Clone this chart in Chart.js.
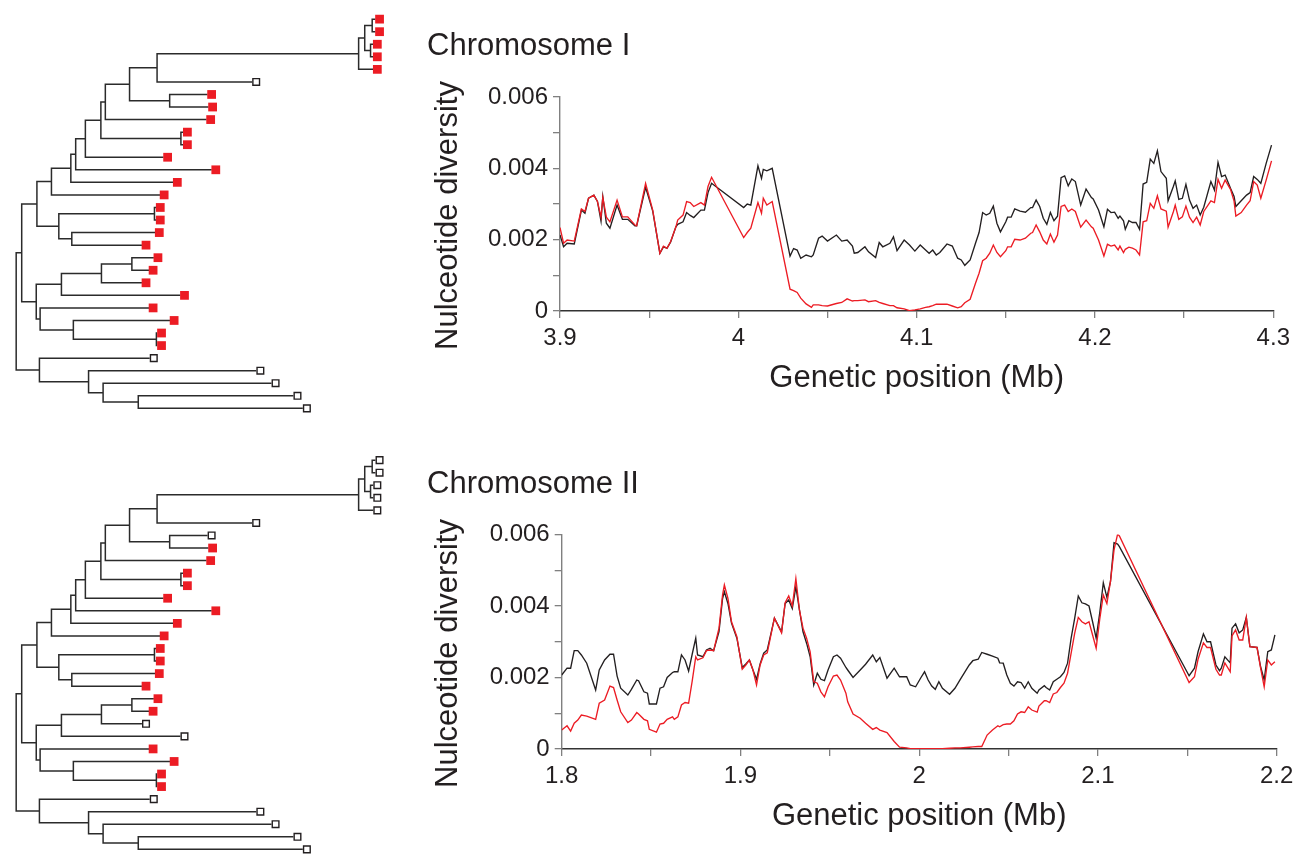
<!DOCTYPE html>
<html>
<head>
<meta charset="utf-8">
<script src="https://cdn.jsdelivr.net/npm/chart.js@4.4.1/dist/chart.umd.min.js"></script>
<style>
  html, body { margin: 0; padding: 0; background: #fff; }
  #page { position: relative; width: 1303px; height: 860px; overflow: hidden; }
  canvas { position: absolute; }
</style>
</head>
<body>
<div id="page">
  <canvas id="treeTop" width="400" height="430" style="left:0;top:0"></canvas>
  <canvas id="treeBottom" width="400" height="430" style="left:0;top:441px"></canvas>
  <canvas id="chrI" width="903" height="420" style="left:400px;top:0"></canvas>
  <canvas id="chrII" width="903" height="420" style="left:400px;top:438px"></canvas>
</div>
<script>
// genetic positions (Mb) and nucleotide diversity (x 1e-3)
var posI = [3.900, 3.902, 3.904, 3.908, 3.912, 3.914, 3.916, 3.919, 3.921, 3.923, 3.924, 3.926, 3.928, 3.932, 3.935, 3.938, 3.942, 3.943, 3.948, 3.952,
  3.956, 3.958, 3.960, 3.962, 3.965, 3.966, 3.969, 3.971, 3.973, 3.975, 3.979, 3.981, 3.983, 3.985, 4.003, 4.005, 4.007, 4.011, 4.013, 4.014,
  4.016, 4.019, 4.029, 4.031, 4.033, 4.035, 4.038, 4.041, 4.042, 4.045, 4.047, 4.050, 4.055, 4.058, 4.061, 4.064, 4.065, 4.067, 4.071, 4.073,
  4.077, 4.079, 4.081, 4.085, 4.087, 4.089, 4.093, 4.096, 4.099, 4.102, 4.105, 4.107, 4.109, 4.111, 4.113, 4.117, 4.120, 4.123, 4.125, 4.127,
  4.130, 4.133, 4.135, 4.137, 4.139, 4.141, 4.143, 4.145, 4.147, 4.150, 4.151, 4.153, 4.155, 4.158, 4.161, 4.164, 4.165, 4.167, 4.169, 4.171,
  4.173, 4.175, 4.177, 4.179, 4.181, 4.183, 4.185, 4.187, 4.189, 4.192, 4.195, 4.198, 4.199, 4.202, 4.205, 4.207, 4.209, 4.211, 4.213, 4.214,
  4.216, 4.217, 4.219, 4.221, 4.223, 4.225, 4.227, 4.229, 4.231, 4.233, 4.235, 4.237, 4.240, 4.241, 4.244, 4.245, 4.247, 4.249, 4.251, 4.253,
  4.255, 4.257, 4.259, 4.261, 4.265, 4.267, 4.269, 4.271, 4.273, 4.276, 4.278, 4.279, 4.282, 4.285, 4.287, 4.289, 4.291, 4.293, 4.296, 4.299];
var blackI = [2.13, 1.80, 1.90, 1.88, 2.83, 2.74, 3.16, 3.25, 3.07, 2.52, 3.21, 2.46, 2.32, 2.97, 2.57, 2.57, 2.39, 2.39, 3.47, 2.80,
  1.62, 1.80, 1.76, 1.93, 2.36, 2.43, 2.50, 2.76, 2.68, 2.62, 2.83, 2.83, 3.32, 3.58, 2.90, 3.00, 2.97, 4.07, 3.72, 3.97,
  3.93, 4.00, 1.54, 1.75, 1.71, 1.48, 1.57, 1.52, 1.57, 2.04, 2.10, 1.96, 2.13, 1.96, 1.99, 1.82, 1.62, 1.64, 1.80, 1.66,
  1.50, 1.92, 1.80, 1.90, 2.08, 1.69, 1.99, 1.85, 1.68, 1.85, 1.71, 1.62, 1.71, 1.57, 1.64, 1.88, 1.82, 1.48, 1.43, 1.28,
  1.43, 1.90, 2.20, 2.76, 2.69, 2.74, 2.94, 2.46, 2.22, 2.50, 2.63, 2.63, 2.86, 2.80, 2.77, 2.90, 2.90, 3.11, 2.93, 2.60,
  2.43, 2.76, 2.53, 2.66, 3.74, 3.79, 3.51, 3.70, 3.63, 2.97, 3.42, 3.18, 3.14, 2.83, 2.36, 2.85, 2.76, 2.77, 2.60, 2.66,
  2.53, 2.29, 2.53, 2.48, 2.48, 2.29, 3.56, 3.61, 4.26, 4.14, 4.49, 3.91, 3.72, 3.09, 3.50, 3.65, 3.13, 3.16, 3.55, 3.11,
  2.88, 2.97, 2.69, 2.91, 3.63, 3.39, 4.17, 3.77, 3.81, 3.44, 3.21, 2.93, 3.09, 3.25, 3.32, 3.77, 3.69, 3.58, 4.14, 4.65];
var redI = [2.34, 1.90, 1.99, 1.96, 2.86, 2.79, 3.16, 3.25, 3.07, 2.63, 3.19, 2.63, 2.50, 3.11, 2.64, 2.64, 2.41, 2.39, 3.58, 2.83,
  1.62, 1.82, 1.76, 1.94, 2.36, 2.55, 2.69, 3.07, 3.04, 2.93, 3.04, 2.97, 3.49, 3.75, 2.06, 2.20, 2.32, 3.04, 2.74, 3.16,
  2.97, 3.07, 0.61, 0.57, 0.52, 0.36, 0.20, 0.10, 0.17, 0.17, 0.15, 0.14, 0.21, 0.24, 0.34, 0.28, 0.29, 0.29, 0.31, 0.26,
  0.29, 0.24, 0.21, 0.15, 0.15, 0.09, 0.06, 0.01, 0.03, 0.06, 0.10, 0.12, 0.15, 0.19, 0.19, 0.19, 0.14, 0.09, 0.12, 0.23,
  0.33, 0.78, 1.06, 1.41, 1.48, 1.62, 1.85, 1.64, 1.52, 1.69, 1.80, 1.80, 2.01, 1.99, 2.04, 2.18, 2.20, 2.41, 2.22, 1.99,
  1.88, 2.16, 1.93, 2.13, 2.93, 2.97, 2.79, 2.86, 2.79, 2.35, 2.55, 2.36, 2.32, 1.99, 1.54, 1.87, 1.82, 1.85, 1.71, 1.82,
  1.64, 1.73, 1.79, 1.76, 1.71, 1.57, 2.50, 2.53, 3.02, 2.88, 3.23, 2.86, 2.80, 2.35, 2.79, 2.97, 2.57, 2.64, 2.94, 2.63,
  2.48, 2.63, 2.41, 2.79, 3.09, 3.04, 3.69, 3.44, 3.67, 3.41, 3.08, 2.66, 2.76, 2.97, 3.09, 3.63, 3.53, 3.16, 3.67, 4.21];

var posII = [1.800, 1.803, 1.805, 1.807, 1.809, 1.811, 1.814, 1.819, 1.821, 1.824, 1.827, 1.829, 1.831, 1.833, 1.837, 1.839, 1.842, 1.843, 1.846, 1.848,
  1.849, 1.853, 1.855, 1.857, 1.859, 1.862, 1.863, 1.865, 1.867, 1.869, 1.871, 1.873, 1.875, 1.876, 1.879, 1.881, 1.883, 1.885, 1.888, 1.890,
  1.891, 1.893, 1.895, 1.898, 1.901, 1.903, 1.905, 1.907, 1.909, 1.911, 1.913, 1.915, 1.919, 1.923, 1.925, 1.927, 1.929, 1.931, 1.933, 1.935,
  1.937, 1.939, 1.941, 1.943, 1.945, 1.947, 1.949, 1.952, 1.954, 1.956, 1.959, 1.960, 1.963, 1.967, 1.970, 1.974, 1.976, 1.978, 1.982, 1.986,
  1.989, 1.993, 1.995, 1.998, 2.001, 2.003, 2.005, 2.007, 2.009, 2.011, 2.013, 2.017, 2.020, 2.023, 2.028, 2.030, 2.033, 2.035, 2.038, 2.041,
  2.044, 2.045, 2.047, 2.049, 2.051, 2.053, 2.055, 2.057, 2.059, 2.061, 2.063, 2.066, 2.067, 2.070, 2.071, 2.073, 2.075, 2.077, 2.079, 2.081,
  2.083, 2.085, 2.087, 2.089, 2.091, 2.093, 2.095, 2.097, 2.099, 2.101, 2.103, 2.105, 2.107, 2.109, 2.111, 2.112, 2.151, 2.154, 2.156, 2.159,
  2.161, 2.163, 2.166, 2.168, 2.169, 2.171, 2.174, 2.175, 2.177, 2.179, 2.181, 2.183, 2.185, 2.189, 2.191, 2.193, 2.195, 2.197, 2.199];
var blackII = [2.07, 2.26, 2.26, 2.75, 2.75, 2.63, 2.40, 1.65, 2.21, 2.49, 2.65, 2.65, 2.04, 1.70, 1.51, 1.67, 1.93, 1.91, 1.60, 1.56,
  1.26, 1.26, 1.70, 1.74, 2.00, 2.14, 2.16, 2.16, 2.63, 2.49, 2.18, 2.65, 3.10, 2.63, 2.58, 2.77, 2.82, 2.75, 3.28, 4.21,
  4.40, 4.07, 3.52, 3.10, 2.28, 2.38, 2.49, 2.21, 1.95, 2.38, 2.68, 2.77, 3.66, 3.28, 4.07, 4.17, 3.93, 4.54, 3.89, 3.28,
  2.96, 2.58, 1.79, 2.12, 1.95, 1.91, 2.21, 2.58, 2.63, 2.54, 2.28, 2.21, 2.00, 2.21, 2.37, 2.63, 2.44, 2.56, 1.98, 2.26,
  2.02, 2.02, 1.79, 1.74, 2.00, 2.16, 1.93, 1.76, 1.67, 1.88, 1.70, 1.53, 1.70, 1.95, 2.35, 2.47, 2.51, 2.70, 2.65, 2.60,
  2.54, 2.41, 2.40, 2.07, 1.84, 1.76, 1.88, 1.86, 1.70, 1.88, 1.70, 1.56, 1.65, 1.77, 1.72, 1.65, 1.88, 1.95, 2.02, 2.14,
  2.40, 3.10, 3.66, 4.28, 4.09, 4.06, 4.00, 3.56, 3.10, 3.81, 4.65, 4.24, 4.68, 5.77, 5.73, 5.66, 2.05, 2.26, 2.72, 3.22,
  3.00, 3.00, 2.35, 2.19, 2.26, 2.58, 2.41, 3.38, 3.50, 3.25, 3.33, 3.68, 2.86, 2.84, 2.30, 1.93, 2.72, 2.77, 3.19];
var redII = [0.53, 0.65, 0.50, 0.72, 0.81, 0.95, 0.92, 0.83, 1.28, 1.37, 1.76, 1.72, 1.37, 1.04, 0.74, 0.81, 1.02, 0.98, 0.83, 0.79,
  0.55, 0.47, 0.70, 0.72, 0.83, 0.90, 0.83, 0.90, 1.23, 1.30, 1.28, 1.90, 2.58, 2.49, 2.55, 2.75, 2.77, 2.75, 3.38, 4.31,
  4.59, 4.21, 3.56, 3.14, 2.23, 2.35, 2.49, 2.21, 1.79, 2.35, 2.63, 2.69, 3.66, 3.25, 4.09, 4.28, 4.00, 4.77, 3.89, 3.38,
  3.10, 2.72, 1.88, 1.84, 1.60, 1.46, 1.74, 2.04, 2.07, 1.93, 1.56, 1.32, 0.98, 0.86, 0.72, 0.55, 0.60, 0.53, 0.46, 0.21,
  0.05, 0.03, 0.01, 0.01, 0.01, 0.01, 0.01, 0.01, 0.01, 0.01, 0.01, 0.02, 0.03, 0.03, 0.05, 0.06, 0.07, 0.07, 0.39, 0.53,
  0.65, 0.62, 0.68, 0.70, 0.70, 0.79, 0.98, 1.04, 1.02, 1.18, 1.09, 1.03, 1.20, 1.35, 1.35, 1.30, 1.54, 1.58, 1.72, 1.84,
  2.12, 2.68, 3.24, 3.68, 3.56, 3.50, 3.56, 3.19, 2.82, 3.63, 4.31, 4.07, 4.68, 5.57, 6.01, 5.96, 1.86, 2.02, 2.51, 2.97,
  2.84, 2.84, 2.23, 2.07, 2.07, 2.41, 2.16, 3.16, 3.33, 3.05, 3.05, 3.68, 2.86, 2.84, 2.26, 1.74, 2.49, 2.35, 2.44];

var xTicksI = ['3.9', '4', '4.1', '4.2', '4.3'];
var xTicksII = ['1.8', '1.9', '2', '2.1', '2.2'];
var yTicks = ['0', '0.002', '0.004', '0.006'];

// tree: [node depth, child, child], a bare number is a leaf tip depth (leaves top to bottom)
var treeTopology = [10.3,
  [16,
    [31.7,
      [46.7,
        [66.7,
          [71.7,
            [81.7,
              [97.7,
                [102.3,
                  [127.3,
                    [155.7,
                      [363.7,
                        [370, [377.7, 380.3, 380.3], [376, 378, 378]],
                        378],
                      253],
                    [168.7, 207, 208]],
                  206],
                [180.3, 182, 182]],
              161.6],
            211.3],
          171.6],
        158],
      [54.3, [153, 154, 154], [67.7, 153, 139.3]]],
    [31,
      [57, [98.3, [129.7, 151.6, 146.6], 139.3], 179],
      [35, 146.6, [69.3, 168.3, [155, 155.3, 155.3]]]]],
  [34.3, 147.3, [85, 257.3, [100, 273, [136.3, 295.6, 305.3]]]]];
// r = filled red square, o = open square
var leafStateTop = 'rrrrrorrrrrrrrrrrrrrrrrrrrrooooo'.split('');
var leafStateBottom = 'ooooooorrrrrrrrrrrrrroorrrrooooo'.split('');

var RED = '#ec1c24';
var INK = '#231f20';
Chart.defaults.font.family = '"Liberation Sans", Arial, Helvetica, sans-serif';
Chart.defaults.color = INK;

function layoutTree(node, segs, tips) {
    if (typeof node === 'number') {
        var leaf = {x: node, y: tips.length};
        tips.push(leaf);
        return leaf;
    }
    var depth = node[0];
    var kids = node.slice(1).map(function(k) { return layoutTree(k, segs, tips); });
    var ys = kids.map(function(k) { return k.y; });
    var gap = {x: null, y: null};
    segs.push({x: depth, y: Math.min.apply(null, ys)}, {x: depth, y: Math.max.apply(null, ys)}, gap);
    kids.forEach(function(k) {
        segs.push({x: depth, y: k.y}, {x: k.x, y: k.y}, gap);
    });
    return {x: depth, y: (ys[0] + ys[ys.length - 1]) / 2};
}

function treeChart(id, states) {
    var segs = [], tips = [];
    layoutTree(treeTopology, segs, tips);
    var mark = function(s) {
        return tips.filter(function(t, i) { return states[i] === s; })
                   .map(function(t) { return {x: t.x + 5, y: t.y}; });
    };
    return new Chart(document.getElementById(id), {
        type: 'scatter',
        data: {
            datasets: [{
                data: mark('r'),
                pointStyle: 'rect',
                pointRadius: 6.2,
                backgroundColor: RED,
                borderColor: RED,
                borderWidth: 0,
                clip: false
            }, {
                data: mark('o'),
                pointStyle: 'rect',
                pointRadius: 4.7,
                backgroundColor: '#fff',
                borderColor: INK,
                borderWidth: 1.4,
                clip: false
            }, {
                data: segs,
                showLine: true,
                spanGaps: false,
                pointRadius: 0,
                borderColor: '#2b2b2b',
                borderWidth: 1.5,
                borderCapStyle: 'square',
                clip: false
            }]
        },
        options: {
            responsive: false,
            animation: false,
            layout: { padding: 0 },
            plugins: { legend: { display: false }, tooltip: { enabled: false } },
            scales: {
                x: { type: 'linear', display: false, min: 0, max: 400 },
                y: { type: 'linear', display: false, min: -1.03, max: 32.23, reverse: true }
            }
        }
    });
}

function panelText(name) {
    return {
        id: 'panelText',
        afterDraw: function(chart) {
            var ctx = chart.ctx;
            ctx.save();
            ctx.fillStyle = INK;
            ctx.font = '31px "Liberation Sans", Arial, sans-serif';
            ctx.textBaseline = 'alphabetic';
            ctx.textAlign = 'left';
            ctx.fillText(name, 27, 55);
            ctx.translate(56.5, 215.5);
            ctx.rotate(-Math.PI / 2);
            ctx.textAlign = 'center';
            ctx.fillText('Nulceotide diversity', 0, 0);
            ctx.restore();
        }
    };
}

function labelFrom(list) {
    return function(value) {
        for (var i = 0; i < list.length; i++) {
            if (Math.abs(Number(list[i]) - value) < 1e-6) return list[i];
        }
        return '';
    };
}

function diversityChart(id, name, pos, black, red, xTicks, box) {
    var pts = function(ys) {
        return pos.map(function(x, i) { return {x: x, y: ys[i] / 1000}; });
    };
    var line = { showLine: true, pointRadius: 0, borderWidth: 1.35, tension: 0 };
    return new Chart(document.getElementById(id), {
        type: 'scatter',
        data: {
            datasets: [
                Object.assign({ label: 'red', data: pts(red), borderColor: RED }, line),
                Object.assign({ label: 'black', data: pts(black), borderColor: INK }, line)
            ]
        },
        options: {
            responsive: false,
            animation: false,
            layout: { padding: { top: box.top, right: box.right, left: 0, bottom: 0 } },
            plugins: { legend: { display: false }, tooltip: { enabled: false } },
            scales: {
                x: {
                    type: 'linear',
                    min: Number(xTicks[0]),
                    max: Number(xTicks[xTicks.length - 1]),
                    afterFit: function(s) { s.height = 109; },
                    ticks: { stepSize: 0.05, autoSkip: false, maxRotation: 0, padding: 6,
                             font: { size: 24 }, color: INK, callback: labelFrom(xTicks) },
                    grid: { drawOnChartArea: false, drawTicks: true, tickLength: 7, color: '#808080', lineWidth: 1.3 },
                    border: { color: '#333', width: 1.4 },
                    title: { display: true, text: 'Genetic position (Mb)', color: INK,
                             font: { size: 31 }, padding: { top: 0, bottom: 23 } }
                },
                y: {
                    min: 0,
                    max: 0.006,
                    afterFit: function(s) { s.width = box.left; },
                    ticks: { stepSize: 0.001, autoSkip: false, padding: 5,
                             font: { size: 24 }, color: INK, callback: labelFrom(yTicks) },
                    grid: { drawOnChartArea: false, drawTicks: true, tickLength: 7, color: '#808080', lineWidth: 1.3 },
                    border: { color: '#808080', width: 1.4 }
                }
            }
        },
        plugins: [panelText(name)]
    });
}

treeChart('treeTop', leafStateTop);
treeChart('treeBottom', leafStateBottom);
diversityChart('chrI', 'Chromosome I', posI, blackI, redI, xTicksI, { top: 97, right: 29.7, left: 160 });
diversityChart('chrII', 'Chromosome II', posII, blackII, redII, xTicksII, { top: 96.5, right: 26.3, left: 161.7 });
</script>
</body>
</html>
